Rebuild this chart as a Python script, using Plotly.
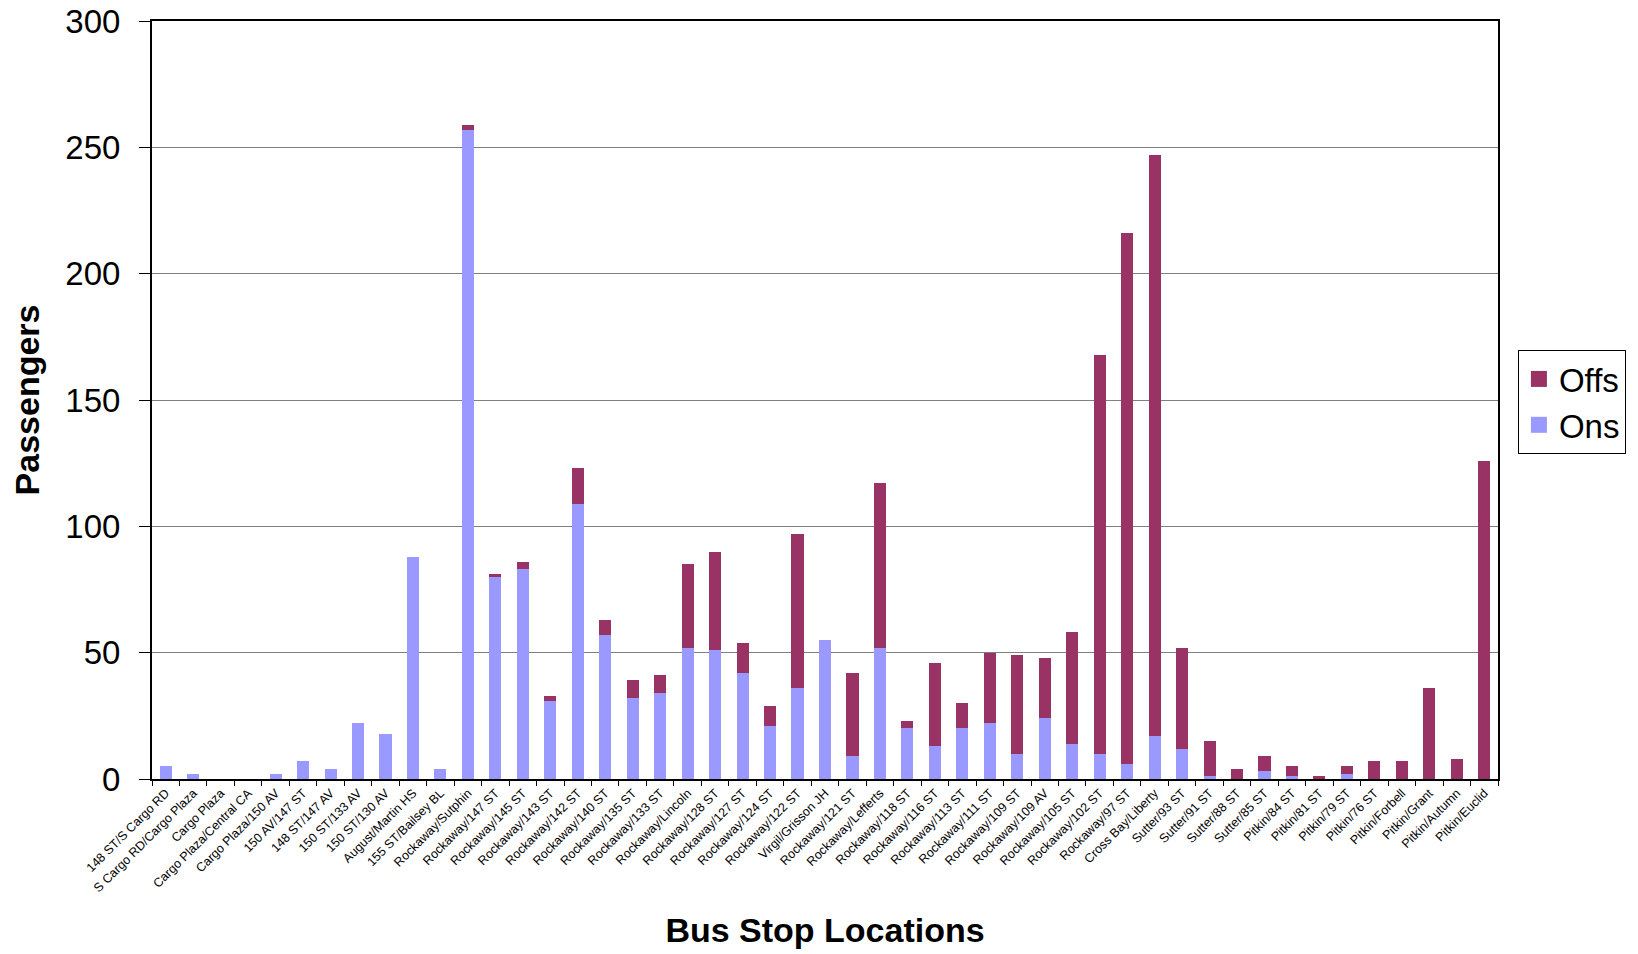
import plotly.graph_objects as go

# Durak isimleri
stops = [
    "148 ST/S Cargo RD", "S Cargo RD/Cargo Plaza", "Cargo Plaza", "Cargo Plaza/Central CA",
    "Cargo Plaza/150 AV", "150 AV/147 ST", "148 ST/147 AV", "150 ST/133 AV", "150 ST/130 AV",
    "August/Martin HS", "155 ST/Bailsey BL", "Rockaway/Sutphin", "Rockaway/147 ST",
    "Rockaway/145 ST", "Rockaway/143 ST", "Rockaway/142 ST", "Rockaway/140 ST",
    "Rockaway/135 ST", "Rockaway/133 ST", "Rockaway/Lincoln", "Rockaway/128 ST",
    "Rockaway/127 ST", "Rockaway/124 ST", "Rockaway/122 ST", "Virgil/Grisson JH",
    "Rockaway/121 ST", "Rockaway/Lefferts", "Rockaway/118 ST", "Rockaway/116 ST",
    "Rockaway/113 ST", "Rockaway/111 ST", "Rockaway/109 ST", "Rockaway/109 AV",
    "Rockaway/105 ST", "Rockaway/102 ST", "Rockaway/97 ST", "Cross Bay/Liberty",
    "Sutter/93 ST", "Sutter/91 ST", "Sutter/88 ST", "Sutter/85 ST", "Pitkin/84 ST",
    "Pitkin/81 ST", "Pitkin/79 ST", "Pitkin/76 ST", "Pitkin/Forbell", "Pitkin/Grant",
    "Pitkin/Autumn", "Pitkin/Euclid",
]

ons = [5, 2, 0, 0, 2, 7, 4, 22, 18, 88, 4, 257, 80, 83, 31, 109, 57, 32, 34, 52, 51,
       42, 21, 36, 55, 9, 52, 20, 13, 20, 22, 10, 24, 14, 10, 6, 17, 12, 1, 0, 3, 1,
       0, 2, 0, 0, 0, 0, 0]

offs = [0, 0, 0, 0, 0, 0, 0, 0, 0, 0, 0, 2, 1, 3, 2, 14, 6, 7, 7, 33, 39, 12, 8, 61,
        0, 33, 65, 3, 33, 10, 28, 39, 24, 44, 158, 210, 230, 40, 14, 4, 6, 4, 1, 3,
        7, 7, 36, 8, 126]

y_ticks = [0, 50, 100, 150, 200, 250, 300]

ONS_COLOR = "#9999FF"
OFFS_COLOR = "#993366"
FONT = "Arial, Liberation Sans, sans-serif"

fig = go.Figure()

fig.add_trace(go.Bar(
    x=stops, y=ons, name="Ons",
    marker=dict(color=ONS_COLOR, line=dict(width=0)),
    showlegend=False,
))
fig.add_trace(go.Bar(
    x=stops, y=offs, name="Offs",
    marker=dict(color=OFFS_COLOR, line=dict(width=0)),
    showlegend=False,
))

# Lejant için büyük kare işaretler
fig.add_trace(go.Scatter(
    x=[None], y=[None], mode="markers", name="Offs",
    marker=dict(symbol="square", size=22, color=OFFS_COLOR),
))
fig.add_trace(go.Scatter(
    x=[None], y=[None], mode="markers", name="Ons",
    marker=dict(symbol="square", size=22, color=ONS_COLOR),
))

fig.update_layout(
    width=1638,
    height=954,
    barmode="stack",
    bargap=0.56,
    plot_bgcolor="white",
    paper_bgcolor="white",
    font=dict(family=FONT, color="black"),
    margin=dict(l=152, r=137, t=21, b=175),
    legend=dict(
        x=1.0148, xanchor="left",
        y=0.566, yanchor="top",
        traceorder="normal",
        font=dict(size=33, family=FONT),
        bordercolor="black", borderwidth=1,
        bgcolor="white",
        itemsizing="trace",
        tracegroupgap=2,
    ),
)

fig.update_xaxes(
    type="category",
    tickangle=-45,
    tickfont=dict(size=12.5, family=FONT),
    ticks="outside", tickson="boundaries", ticklen=5, tickwidth=1, tickcolor="black",
    showline=True, linecolor="black", linewidth=2, mirror=True,
    showgrid=False,
    automargin=False,
    title=dict(text="<b>Bus Stop Locations</b>", font=dict(size=34, family=FONT), standoff=24),
)

fig.update_yaxes(
    range=[0, 300],
    tickvals=y_ticks,
    tickfont=dict(size=33, family=FONT),
    ticks="outside", ticklen=11, tickwidth=1, tickcolor="black",
    ticklabelstandoff=12,
    ticklabeloverflow="allow",
    showline=True, linecolor="black", linewidth=2, mirror=True,
    showgrid=True, gridcolor="#808080", gridwidth=1,
    zeroline=False,
    automargin=False,
    title=dict(text="<b>Passengers</b>", font=dict(size=34, family=FONT), standoff=15),
)

# Sayfa kenar boşluğunu kaldır, grafik tam pencereye otursun
fig.write_html(
    "out.html",
    config={"displayModeBar": False},
    post_script="document.body.style.margin='0';",
)
